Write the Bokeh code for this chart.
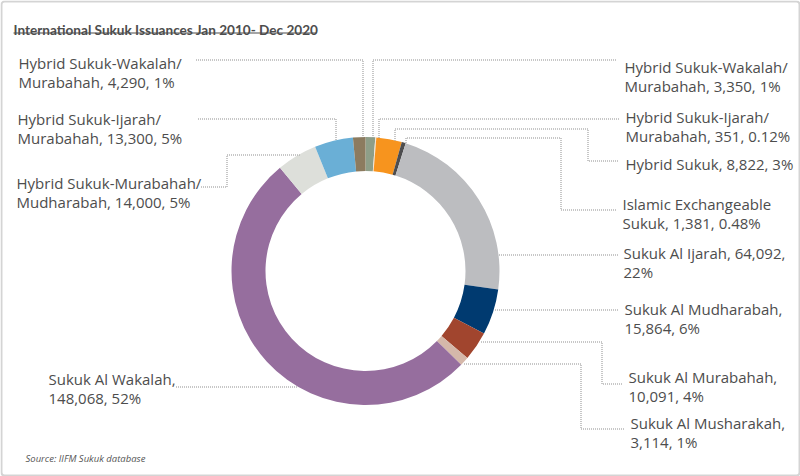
import math
import numpy as np
from bokeh.plotting import figure
from bokeh.models import Range1d, BoxAnnotation
from bokeh.core.properties import value
from bokeh.embed import file_html
from bokeh.resources import INLINE

# ---- data (clockwise from 12 o'clock) ----
categories = [
    "Hybrid Sukuk-Wakalah/Murabahah",
    "Hybrid Sukuk-Ijarah/Murabahah",
    "Hybrid Sukuk",
    "Islamic Exchangeable Sukuk",
    "Sukuk Al Ijarah",
    "Sukuk Al Mudharabah",
    "Sukuk Al Murabahah",
    "Sukuk Al Musharakah",
    "Sukuk Al Wakalah",
    "Hybrid Sukuk-Murabahah/Mudharabah",
    "Hybrid Sukuk-Ijarah/Murabahah",
    "Hybrid Sukuk-Wakalah/Murabahah",
]
amounts = [3350, 351, 8822, 1381, 64092, 15864, 10091, 3114, 148068, 14000, 13300, 4290]
shares = ["1%", "0.12%", "3%", "0.48%", "22%", "6%", "4%", "1%", "52%", "5%", "5%", "1%"]

title = "International Sukuk Issuances Jan 2010- Dec 2020"
source_note = "Source: IIFM Sukuk database"

# ---- styles ----
colors = ["#8E9E88", "#F3E2D3", "#F7941E", "#4D4D4F", "#BCBDC0", "#003A70",
          "#A1452E", "#D5B8AA", "#966E9E", "#DDDFDA", "#6AAFD6", "#8C7B5F"]
TEXT = "#4d4d4d"
FONT = "Open Sans"

# ---- layout (pixel space, y measured downward) ----
W, H = 800, 476
CX, CY = 365.0, 270.5
R_OUT, R_IN = 134.0, 100.0

# number of words on the first label line
first_line_words = [2, 2, 99, 2, 4, 3, 3, 3, 3, 2, 2, 2]
# label anchor: left x, baseline of first line
label_pos = [(624, 66), (625, 116), (625, 163), (622, 203), (623, 252), (624, 308),
             (628, 376), (630, 422), (48, 378), (16, 182), (17, 118), (18, 62)]
LINE_STEP = 19.5

# leader routes from the label side toward the ring; final leg meets the ring
leader_routes = [
    [(615, 59), (372, 59)],
    [(618, 118), (378, 118)],
    [(617, 160), (587, 160), (587, 128), (394, 128)],
    [(615, 209), (560, 209), (560, 137), (405, 137)],
    [(617, 254)],
    [(617, 309)],
    [(621, 383), (601, 383), (601, 341)],
    [(623, 428), (580, 428), (580, 363)],
    [(175, 386)],
    [(200, 186), (226, 186), (226, 154)],
    [(197, 118), (335, 118)],
    [(195, 59), (362, 59)],
]
leader_last_leg = ["v", "v", "v", "v", "h", "h", "h", "h", "h", "h", "v", "v"]


def fy(y_px):
    """Convert a downward pixel y into data y."""
    return H - y_px


p = figure(width=W, height=H, x_range=Range1d(0, W), y_range=Range1d(0, H),
           output_backend="svg", toolbar_location=None, min_border=0,
           x_axis_location=None, y_axis_location=None)
p.grid.visible = False
p.outline_line_color = None
p.background_fill_color = "white"
p.border_fill_color = "white"

# ---- donut ----
total = float(sum(amounts))
cum = np.cumsum([0] + amounts)
theta0 = 2 * math.pi * cum[:-1] / total   # clockwise from top
theta1 = 2 * math.pi * cum[1:] / total
p.annular_wedge(x=[CX] * len(amounts), y=[fy(CY)] * len(amounts),
                inner_radius=R_IN, outer_radius=R_OUT,
                start_angle=list(math.pi / 2 - theta1),
                end_angle=list(math.pi / 2 - theta0),
                direction="anticlock", fill_color=colors, line_color=None)

# ---- leader lines ----
xs, ys = [], []
for route, leg in zip(leader_routes, leader_last_leg):
    pts = list(route)
    lx, ly = pts[-1]
    if leg == "v":
        end = (lx, CY - math.sqrt(R_OUT ** 2 - (lx - CX) ** 2))
    else:
        dx = math.sqrt(R_OUT ** 2 - (ly - CY) ** 2)
        end = (CX + dx if lx > CX else CX - dx, ly)
    pts.append(end)
    xs.append([x + 0.5 for x, _ in pts])
    ys.append([fy(y + 0.5) for _, y in pts])
p.multi_line(xs=xs, ys=ys, line_color="#8f8f8f", line_width=1, line_dash="1 1")

# ---- labels ----
tx, ty, tt = [], [], []
for cat, amt, sh, k, (lx, ly) in zip(categories, amounts, shares, first_line_words, label_pos):
    full = f"{cat}, {amt:,}, {sh}".replace("/", "/ ")
    words = full.split(" ")
    lines = [" ".join(words[:k]), " ".join(words[k:])]
    lines = [ln.replace("/ ", "/").strip() for ln in lines if ln.strip()]
    for i, ln in enumerate(lines):
        tx.append(lx)
        ty.append(fy(ly + i * LINE_STEP))
        tt.append(ln)
p.text(x=tx, y=ty, text=tt, text_font=value(FONT), text_font_size="15px",
       text_color=TEXT, text_align="left", text_baseline="alphabetic")

# ---- title with underline ----
p.text(x=[13], y=[fy(29)], text=[title], text_font=value("Lato"),
       text_font_style="bold", text_font_size="13.6px", text_color=TEXT,
       text_align="left", text_baseline="alphabetic")
p.line(x=[13, 316], y=[fy(32.5), fy(32.5)], line_color=TEXT, line_width=1.2)

# ---- source note ----
p.text(x=[25], y=[fy(458)], text=[source_note], text_font=value(FONT),
       text_font_style="italic", text_font_size="9.5px", text_color="#555555",
       text_align="left", text_baseline="alphabetic")

# ---- frame border ----
p.add_layout(BoxAnnotation(left=1, right=W - 1, bottom=1, top=H - 1,
                           fill_alpha=0, line_color="#6f6f6f", line_width=2,
                           border_radius=3))

open("out.html", "w").write(file_html(p, INLINE))
